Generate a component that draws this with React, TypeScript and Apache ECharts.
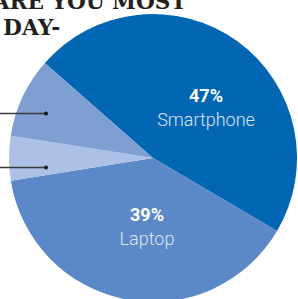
import React, { useEffect, useRef } from "react";
import * as echarts from "echarts";

const categories = ["Smartphone", "Laptop", "Tablet", "Desktop"];
const shares = [47, 39, 5, 9];
const sliceColors = ["#0366b3", "#5b88c6", "#adc1e6", "#7f9fd3"];
const titleLines = ["ARE YOU MOST", "DAY-"];

export default function App() {
  const ref = useRef<HTMLDivElement>(null);
  useEffect(() => {
    if (!ref.current) return;
    const chart = echarts.init(ref.current, null, { renderer: "svg" });
    const labelPos: Record<number, [number, number]> = {
      0: [206, 107],
      1: [147, 226],
    };
    chart.setOption({
      animation: false,
      series: [
        {
          type: "pie",
          center: [153, 158],
          radius: [0, 144],
          startAngle: 138.7,
          clockwise: true,
          avoidLabelOverlap: false,
          silent: true,
          z: 2,
          itemStyle: { borderWidth: 0 },
          label: {
            show: true,
            position: "inside",
            formatter: (p: any) => `{a|${p.value}%}\n{b|${p.name}}`,
            rich: {
              a: {
                fontFamily: "Roboto",
                fontWeight: "bold",
                fontSize: 18,
                color: "#ffffff",
                lineHeight: 24,
                align: "center",
              },
              b: {
                fontFamily: "Roboto",
                fontWeight: 300,
                fontSize: 18,
                color: "#dbe6f5",
                lineHeight: 24,
                align: "center",
              },
            },
          },
          labelLine: { show: false },
          labelLayout: (params: any) => {
            const pos = labelPos[params.dataIndex];
            if (!pos) return {};
            return { x: pos[0], y: pos[1], align: "center", verticalAlign: "middle" };
          },
          data: categories.map((name, i) => ({
            name,
            value: shares[i],
            itemStyle: { color: sliceColors[i] },
            label: { show: i < 2 },
          })),
        },
      ],
      graphic: [
        {
          type: "text",
          x: 176,
          y: 12,
          originX: 176,
          scaleX: 0.94,
          z: 100,
          style: {
            text: titleLines[0],
            font: "bold 23px 'DejaVu Serif'",
            fill: "#231f20",
            textAlign: "right",
            textVerticalAlign: "bottom",
          },
        },
        {
          type: "text",
          x: 3,
          y: 38,
          scaleX: 0.95,
          z: 100,
          style: {
            text: titleLines[1],
            font: "bold 23px 'DejaVu Serif'",
            fill: "#231f20",
            textAlign: "left",
            textVerticalAlign: "bottom",
          },
        },
        {
          type: "line",
          z: 100,
          shape: { x1: 0, y1: 113.5, x2: 46, y2: 113.5 },
          style: { stroke: "#3a3a3a", lineWidth: 1.3 },
        },
        {
          type: "circle",
          z: 100,
          shape: { cx: 46, cy: 113.5, r: 2 },
          style: { fill: "#1a1a1a" },
        },
        {
          type: "line",
          z: 100,
          shape: { x1: 0, y1: 167.5, x2: 46, y2: 167.5 },
          style: { stroke: "#3a3a3a", lineWidth: 1.3 },
        },
        {
          type: "circle",
          z: 100,
          shape: { cx: 46, cy: 167.5, r: 2 },
          style: { fill: "#1a1a1a" },
        },
      ],
    });
    return () => chart.dispose();
  }, []);
  return (
    <div
      ref={ref}
      style={{ position: "absolute", left: 0, top: 0, width: 298, height: 299 }}
    />
  );
}
